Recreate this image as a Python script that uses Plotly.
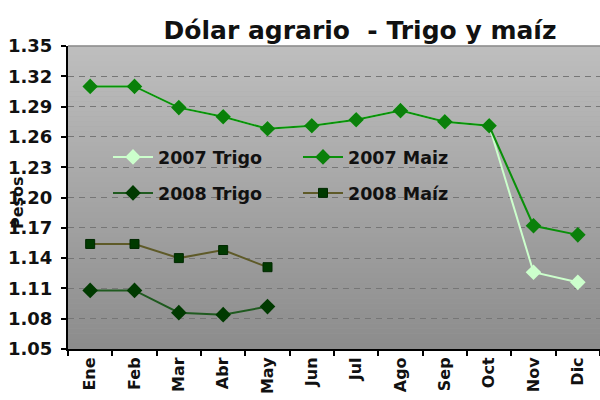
import plotly.graph_objects as go

months = ["Ene", "Feb", "Mar", "Abr", "May", "Jun", "Jul", "Ago", "Sep", "Oct", "Nov", "Dic"]
trigo_2007 = [1.310, 1.310, 1.289, 1.280, 1.268, 1.271, 1.277, 1.286, 1.275, 1.271, 1.126, 1.116]
maiz_2007 = [1.310, 1.310, 1.289, 1.280, 1.268, 1.271, 1.277, 1.286, 1.275, 1.271, 1.172, 1.163]
trigo_2008 = [1.108, 1.108, 1.086, 1.084, 1.092, None, None, None, None, None, None, None]
maiz_2008 = [1.154, 1.154, 1.140, 1.148, 1.131, None, None, None, None, None, None, None]
y_ticks = [1.05, 1.08, 1.11, 1.14, 1.17, 1.20, 1.23, 1.26, 1.29, 1.32, 1.35]

FONT = "DejaVu Sans"
TXT = "#111111"
fig = go.Figure()

fig.add_trace(go.Scatter(x=months, y=trigo_2007, name="2007 Trigo", mode="lines+markers",
                         line=dict(color="#ccffcc", width=2),
                         marker=dict(symbol="diamond", size=12, color="#ccffcc"),
                         legend="legend"))
fig.add_trace(go.Scatter(x=months, y=maiz_2007, name="2007 Maiz", mode="lines+markers",
                         line=dict(color="#0a900a", width=2),
                         marker=dict(symbol="diamond", size=12, color="#0a800a"),
                         legend="legend"))
fig.add_trace(go.Scatter(x=months, y=trigo_2008, name="2008 Trigo", mode="lines+markers",
                         line=dict(color="#1f5a1f", width=2),
                         marker=dict(symbol="diamond", size=12, color="#003a00"),
                         legend="legend2"))
fig.add_trace(go.Scatter(x=months, y=maiz_2008, name="2008 Maíz", mode="lines+markers",
                         line=dict(color="#5e5a28", width=2),
                         marker=dict(symbol="square", size=9, color="#003a00",
                                     line=dict(color="#002800", width=1)),
                         legend="legend2"))

# vertical gradient background
shapes = []
n = 60
top = (0xbe, 0xbe, 0xbe)
bot = (0x8c, 0x8c, 0x8c)
for i in range(n):
    t = (i + 0.5) / n
    c = tuple(round(top[k] + (bot[k] - top[k]) * t) for k in range(3))
    shapes.append(dict(type="rect", xref="paper", yref="paper",
                       x0=0, x1=1, y0=1 - (i + 1) / n, y1=1 - i / n + 0.001,
                       fillcolor="rgb(%d,%d,%d)" % c, line=dict(width=0), layer="below"))
shapes.append(dict(type="line", xref="paper", yref="paper", x0=0, x1=1, y0=1, y1=1,
                   line=dict(color="#8a8a8a", width=1.5), layer="above"))

legend_common = dict(orientation="h", bgcolor="rgba(0,0,0,0)", xanchor="left", yanchor="middle",
                     font=dict(family=FONT, size=17.5, color=TXT, weight="bold"),
                     entrywidth=135, entrywidthmode="pixels", itemwidth=40)

fig.update_layout(
    width=600, height=400,
    margin=dict(l=68, r=0, t=46, b=51),
    paper_bgcolor="white",
    plot_bgcolor="#a5a5a5",
    shapes=shapes,
    title=dict(text="Dólar agrario  - Trigo y maíz", x=360 / 600, xanchor="center",
               y=1 - 30 / 400, yanchor="middle",
               font=dict(family=FONT, size=25, color=TXT, weight="bold")),
    legend=dict(x=(108 - 68) / 532, y=(349 - 157) / 303, **legend_common),
    legend2=dict(x=(108 - 68) / 532, y=(349 - 193) / 303, **legend_common),
    xaxis=dict(type="category", categoryorder="array", categoryarray=months,
               tickson="boundaries", ticks="outside", ticklen=5, tickcolor="black", tickwidth=1.5,
               showline=True, linecolor="black", linewidth=2, showgrid=False,
               tickangle=-90, tickfont=dict(family=FONT, size=16, color=TXT, weight="bold"),
               range=[-0.5, 11.5], automargin=False),
    yaxis=dict(range=[1.05, 1.35], tickvals=y_ticks, tickformat=".2f",
               ticks="outside", ticklen=5, tickcolor="black", tickwidth=1.5,
               showline=True, linecolor="black", linewidth=2,
               showgrid=True, gridcolor="#767676", gridwidth=1, griddash="6px,5px",
               zeroline=False, ticklabelstandoff=5, automargin=False,
               tickfont=dict(family=FONT, size=18, color=TXT, weight="bold")),
)

fig.add_annotation(text="Pesos", xref="paper", yref="paper", x=(18 - 68) / 532, y=(349 - 203) / 303,
                   xanchor="center", yanchor="middle",
                   showarrow=False, textangle=-90, font=dict(family=FONT, size=16, color=TXT, weight="bold"))

fig.write_html("out.html", post_script="document.body.style.margin='0';",
               config={"displayModeBar": False})
